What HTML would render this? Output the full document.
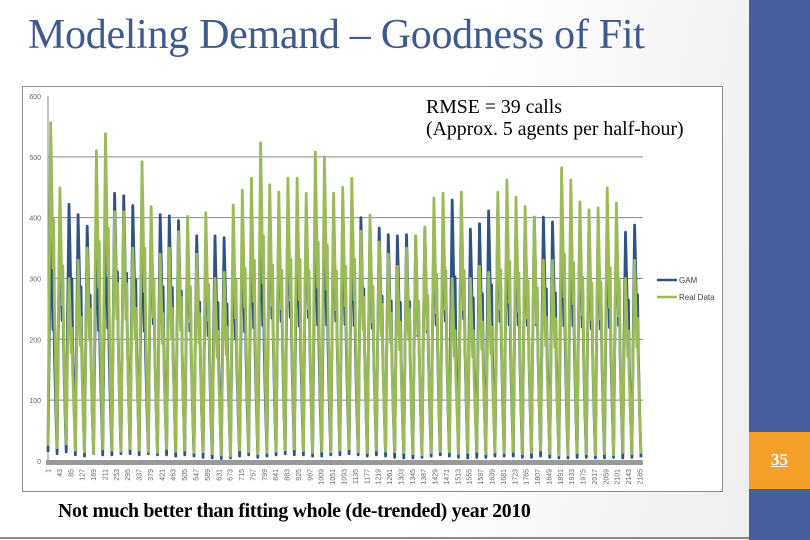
<!DOCTYPE html>
<html><head><meta charset="utf-8">
<style>
html,body{margin:0;padding:0;}
body{width:810px;height:540px;position:relative;overflow:hidden;background:linear-gradient(100deg,#ffffff 0%,#ffffff 55%,#ebebeb 100%);font-family:"Liberation Serif",serif;}
#title{position:absolute;left:28px;top:11px;font-size:42px;line-height:48px;color:#3f5a8f;white-space:nowrap;letter-spacing:-0.3px;}
#panel{position:absolute;left:749px;top:0;width:61px;height:540px;background:#465f9c;}
#pnum{position:absolute;left:749px;top:432px;width:61px;height:57px;background:#f5a02a;color:#fff;font-weight:bold;font-size:17px;text-align:center;line-height:55px;text-decoration:underline;}
#bottomline{position:absolute;left:0;top:537px;width:749px;height:2px;background:#8a8a8a;}
#note{position:absolute;left:58px;top:500px;font-size:20px;font-weight:bold;white-space:nowrap;color:#000;transform:scaleX(0.99);transform-origin:left top;letter-spacing:-0.3px;}
svg{position:absolute;left:0;top:0;}
</style></head>
<body>
<div id="title">Modeling Demand – Goodness of Fit</div>
<div id="panel"></div>
<div id="pnum">35</div>
<div id="bottomline"></div>
<svg id="chart" width="810" height="540"></svg>
<div id="note">Not much better than fitting whole (de-trended) year 2010</div>
<script>
const realPeaks=[556,449,300,330,350,510,538,410,410,350,492,418,340,350,377,402,340,408,300,310,421,445,465,523,454,442,465,465,440,508,500,440,450,465,378,404,360,340,320,350,370,385,432,440,300,442,300,320,310,442,462,434,418,401,330,330,482,462,426,413,416,449,424,300,330];
const gamPeaks=[380,410,422,405,386,380,390,440,436,420,380,400,405,403,395,380,370,370,370,367,360,380,390,400,420,410,420,395,420,400,400,410,400,395,400,390,383,372,370,372,370,380,400,410,429,420,381,390,411,410,400,400,400,401,401,393,400,400,395,390,390,395,400,376,388];
const realTroughs=[25,22,28,18,15,12,20,18,16,20,18,15,14,20,16,18,14,15,12,10,8,18,15,12,14,16,18,20,17,14,16,15,18,20,15,14,18,16,15,14,12,10,14,16,15,12,14,16,12,15,14,16,12,14,18,12,10,10,14,12,10,12,10,14,12];
const gamTroughs=[15,12,15,10,8,12,10,10,12,12,10,12,10,10,8,10,8,6,5,4,5,8,10,6,8,10,12,10,10,8,8,10,10,12,10,8,10,8,6,5,5,6,8,10,8,6,5,6,6,8,8,8,6,6,8,6,5,5,6,6,5,5,6,5,6];
const yTicks=[0,100,200,300,400,500,600];
const xLabels=[];for(let v=1;v<=2185;v+=42)xLabels.push(v);

const NS="http://www.w3.org/2000/svg";
const svg=document.getElementById('chart');
const X0=48,X1=641,Y0=461,Y600=96;
const ys=v=>Y0-(v/600)*(Y0-Y600);
const nDays=realPeaks.length;
const xs=t=>X0+t*(X1-X0)/nDays;
function mk(tag,attrs){const e=document.createElementNS(NS,tag);for(const k in attrs)e.setAttribute(k,attrs[k]);svg.appendChild(e);return e;}

const frame=mk('rect',{x:22.5,y:86.5,width:700,height:405,fill:'#fff',stroke:'#8c8c8c','stroke-width':1});



yTicks.forEach(v=>{
  if(v>0&&v<600){const g=mk('line',{x1:X0,x2:X1+2,y1:ys(v),y2:ys(v),stroke:'#8a8a8a','stroke-width':1});
  
  }
  const t=mk('text',{x:41,y:ys(v)+3,'font-size':7,'text-anchor':'end',fill:'#666','font-family':'Liberation Sans, sans-serif'});
  t.textContent=v;
  
  
});
const ya=mk('line',{x1:X0,x2:X0,y1:Y600,y2:Y0,stroke:'#8a8a8a','stroke-width':1});



function series(peaks,troughs,color,w,name){
  let pts=[];
  const shape=[[0,0],[0.12,0.45],[0.3,1],[0.42,0.8],[0.55,0.55],[0.62,0.7],[0.7,0.45],[0.85,0.2]];
  for(let d=0;d<peaks.length;d++){
    const p=peaks[d],tr=troughs[d];
    shape.forEach(([f,a])=>{pts.push(xs(d+f).toFixed(1)+','+ys(tr+a*(p-tr)).toFixed(1));});
  }
  pts.push(xs(nDays).toFixed(1)+','+ys(troughs[nDays-1]).toFixed(1));
  const pl=mk('polyline',{points:pts.join(' '),fill:'none',stroke:color,'stroke-width':w,'stroke-linejoin':'round'});
  
  
}
series(gamPeaks,gamTroughs,'#2e5487',2.8,'gam-series');
series(realPeaks,realTroughs,'#9bbb59',2.8,'real-data-series');

const xa=mk('rect',{x:X0-2,y:Y0-1,width:X1-X0+4,height:5,fill:'#9a9a9a'});


xLabels.forEach((v,i)=>{
  const x=X0+(v-1)*(X1-1-X0)/2184;
  const t=mk('text',{x:0,y:0,'font-size':7,'text-anchor':'end',fill:'#666','font-family':'Liberation Sans, sans-serif',transform:`translate(${x+2.5},${Y0+8}) rotate(-90)`});
  t.textContent=v;
  
  
});

[['GAM','#2e5487',280],['Real Data','#9bbb59',297]].forEach(([lab,c,y])=>{
  const l=mk('line',{x1:657,x2:677,y1:y,y2:y,stroke:c,'stroke-width':2.5});
  
  
  const t=mk('text',{x:679,y:y+3,'font-size':8,fill:'#444','font-family':'Liberation Sans, sans-serif'});
  t.textContent=lab;
  
  
});

[['RMSE = 39 calls',113],['(Approx. 5 agents per half-hour)',135]].forEach(([s,y])=>{
  const t=mk('text',{x:426,y:y,'font-size':19.8,fill:'#000','font-family':'Liberation Serif, serif'});
  t.textContent=s;
  
  
});
</script>
</body></html>
